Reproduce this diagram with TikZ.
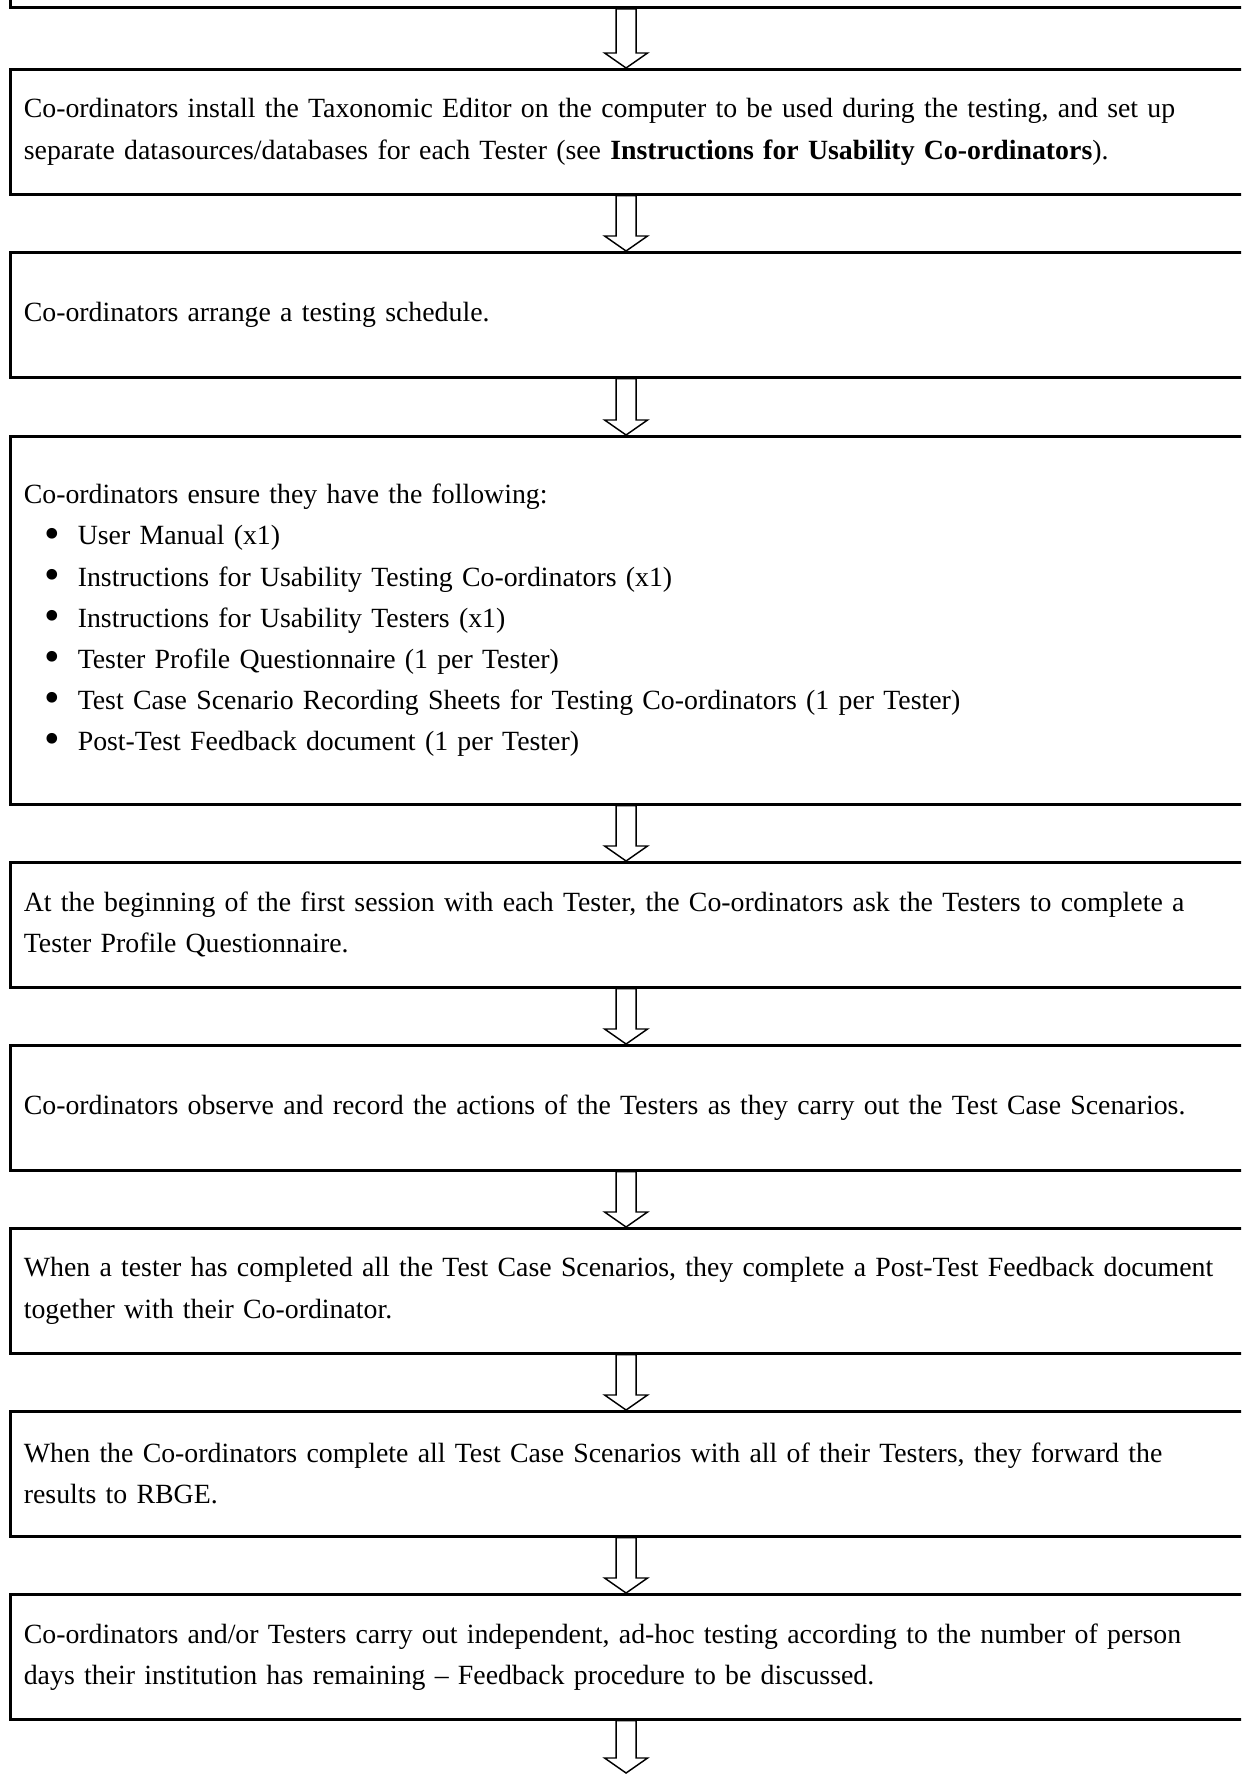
\documentclass[tikz,border=0pt]{standalone}
\usepackage{fontspec}
\setmainfont{Liberation Serif}
\usetikzlibrary{calc}

\tikzset{
  stepbox/.style={draw, line width=1.3pt, anchor=north west, minimum height=60.2pt,
    text width=600pt, inner xsep=6.5pt, align=left,
    font=\fontsize{13.4}{19.8}\selectfont},
  flowarrow/.style={draw, line width=0.7pt, line join=miter}
}
\newcommand\bulletitem[1]{\hspace*{10pt}\makebox[16pt][l]{\raisebox{-0.25ex}{\scalebox{1.6}{\textbullet}}}#1}
% block arrow 297.3pt right of the boxes' left side
\newcommand\flowto[2]{%
  \draw[flowarrow] let \p1=#1, \p2=#2, \n1={\x1+297.3pt} in
    (\n1-4.82pt,\y1) -- (\n1-4.82pt,\y2+7.23pt) -- (\n1-10.36pt,\y2+7.23pt) -- (\n1,\y2)
    -- (\n1+10.36pt,\y2+7.23pt) -- (\n1+4.82pt,\y2+7.23pt) -- (\n1+4.82pt,\y1) -- cycle;}

\begin{document}
\begin{tikzpicture}[x=0.4818pt,y=-0.4818pt]
\useasboundingbox (0,0) rectangle (1241,1774);
\clip (0,0) rectangle (1241,1774);

% steps of the testing procedure
\node[stepbox,anchor=south west] (b0) at (9,9) {};
\node[stepbox] (b1) at (9,68) {Co-ordinators install the Taxonomic Editor on the computer to be used during the testing, and set up\\
separate datasources/databases for each Tester (see \textbf{Instructions for Usability Co-ordinators}).};
\node[stepbox] (b2) at (9,251) {Co-ordinators arrange a testing schedule.};
\node[stepbox,minimum height=177.3pt] (b3) at (9,435) {Co-ordinators ensure they have the following:\\
\bulletitem{User Manual (x1)}\\
\bulletitem{Instructions for Usability Testing Co-ordinators (x1)}\\
\bulletitem{Instructions for Usability Testers (x1)}\\
\bulletitem{Tester Profile Questionnaire (1 per Tester)}\\
\bulletitem{Test Case Scenario Recording Sheets for Testing Co-ordinators (1 per Tester)}\\
\bulletitem{Post-Test Feedback document (1 per Tester)}};
\node[stepbox] (b4) at (9,861) {At the beginning of the first session with each Tester, the Co-ordinators ask the Testers to complete a\\
Tester Profile Questionnaire.};
\node[stepbox] (b5) at (9,1044) {Co-ordinators observe and record the actions of the Testers as they carry out the Test Case Scenarios.};
\node[stepbox] (b6) at (9,1227) {When a tester has completed all the Test Case Scenarios, they complete a Post-Test Feedback document\\
together with their Co-ordinator.};
\node[stepbox] (b7) at (9,1410) {When the Co-ordinators complete all Test Case Scenarios with all of their Testers, they forward the\\
results to RBGE.};
\node[stepbox] (b8) at (9,1593) {Co-ordinators and/or Testers carry out independent, ad-hoc testing according to the number of person\\
days their institution has remaining -- Feedback procedure to be discussed.};
\coordinate (end) at (626,1773);

% block arrows between the steps
\foreach \a/\b in {b0/b1,b1/b2,b2/b3,b3/b4,b4/b5,b5/b6,b6/b7,b7/b8}
  {\flowto{(\a.south west)}{(\b.north)}}
\flowto{(b8.south west)}{(end)}
\end{tikzpicture}
\end{document}
